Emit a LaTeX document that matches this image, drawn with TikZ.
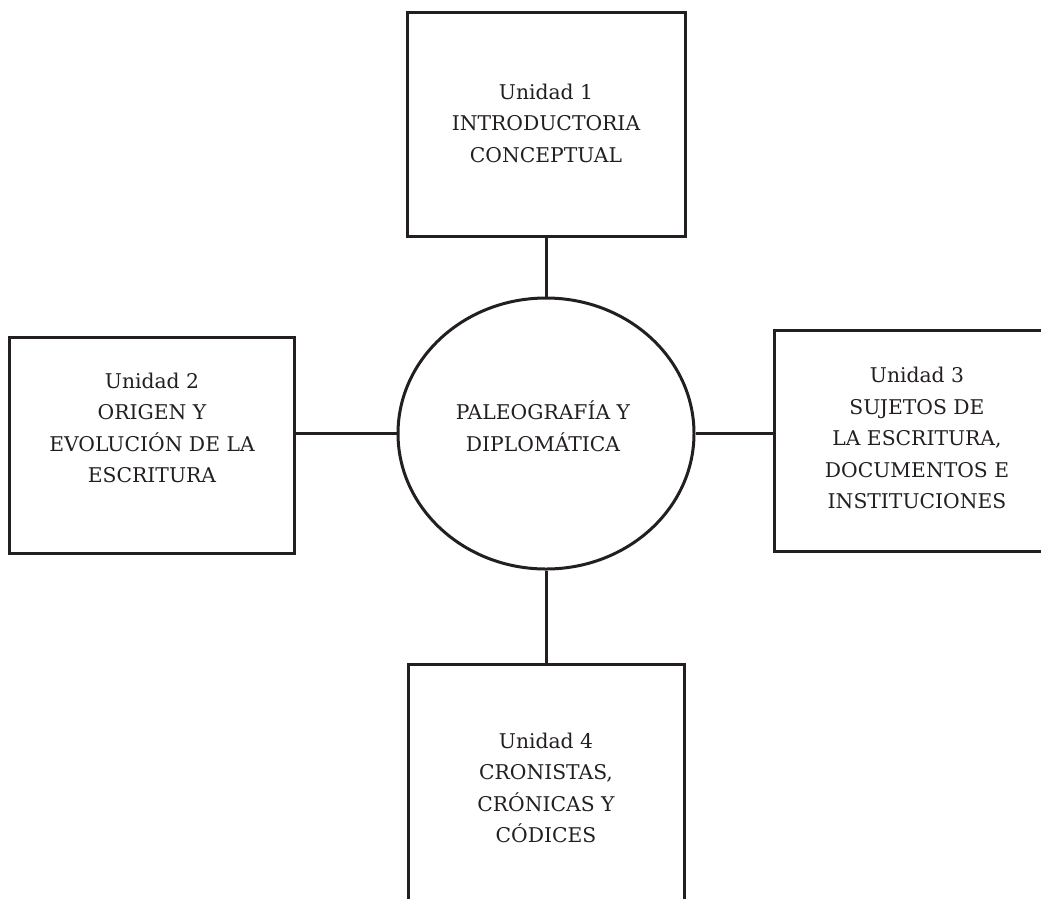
\documentclass[tikz,border=0pt]{standalone}
\usepackage{fontspec}
\setmainfont{DejaVu Serif}
\usetikzlibrary{shapes.geometric}
\definecolor{ink}{HTML}{231F20}
\begin{document}
\begin{tikzpicture}[x=1pt,y=-1pt,
  unitbox/.style={draw=ink, line width=3pt, rectangle, inner sep=0pt},
  hub/.style={draw=ink, line width=3pt, ellipse, inner sep=0pt, minimum width=296pt, minimum height=271pt},
  label/.style={text=ink, align=center, font=\fontsize{20.3}{31.5}\selectfont, inner sep=0pt},
  link/.style={draw=ink, line width=3pt}]
\useasboundingbox (0,0) rectangle (1041,898);
\clip (0,0) rectangle (1041,898);

% central topic
\node[hub] (hub) at (546,433.5) {};
\node[label] (hubtxt) at (543,426) {PALEOGRAFÍA Y\\DIPLOMÁTICA};

% the four units
\node[unitbox, minimum width=278pt, minimum height=224pt] (u1) at (546,124) {};
\node[label] (u1txt) at (546,123) {Unidad 1\\INTRODUCTORIA\\CONCEPTUAL};

\node[unitbox, minimum width=285pt, minimum height=216pt] (u2) at (151.5,445) {};
\node[label] (u2txt) at (152,428) {Unidad 2\\ORIGEN Y\\EVOLUCIÓN DE LA\\ESCRITURA};

\node[unitbox, minimum width=300pt, minimum height=221pt] (u3) at (924,440.5) {};
\node[label] (u3txt) at (917,438) {Unidad 3\\SUJETOS DE\\LA ESCRITURA,\\DOCUMENTOS E\\INSTITUCIONES};

\node[unitbox, minimum width=276pt, minimum height=300pt] (u4) at (546,814) {};
\node[label] (u4txt) at (546,788) {Unidad 4\\CRONISTAS,\\CRÓNICAS Y\\CÓDICES};

% connectors from the hub to each unit
\draw[link] (hub.north) -- (u1.south);
\draw[link] (hub.south) -- (u4.north);
\draw[link] (hub.west) -- (hub.west -| u2.east);
\draw[link] (hub.east) -- (hub.east -| u3.west);
\end{tikzpicture}
\end{document}
